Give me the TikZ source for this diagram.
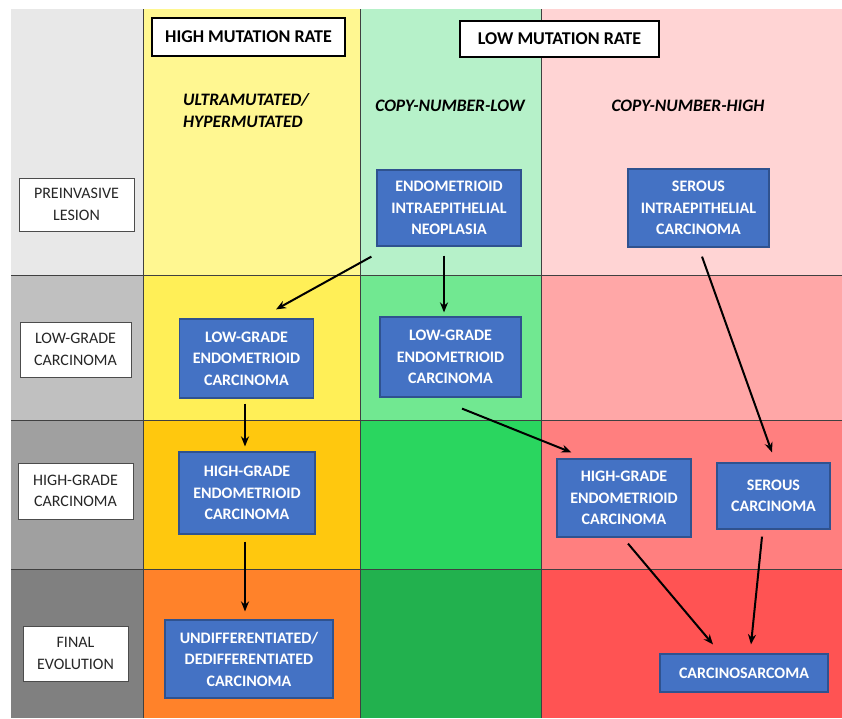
\documentclass[tikz,border=0pt]{standalone}
\usepackage{fontspec}
\setmainfont{Carlito}
\usetikzlibrary{arrows.meta}

\definecolor{cellg1}{HTML}{E8E8E8}
\definecolor{cellg2}{HTML}{C0C0C0}
\definecolor{cellg3}{HTML}{A0A0A0}
\definecolor{cellg4}{HTML}{808080}
\definecolor{celly1}{HTML}{FFF791}
\definecolor{celly2}{HTML}{FFEF57}
\definecolor{celly3}{HTML}{FFC80E}
\definecolor{celly4}{HTML}{FF822A}
\definecolor{celln1}{HTML}{B6F1C9}
\definecolor{celln2}{HTML}{71E891}
\definecolor{celln3}{HTML}{2AD65F}
\definecolor{celln4}{HTML}{22B14E}
\definecolor{cellr1}{HTML}{FFD4D4}
\definecolor{cellr2}{HTML}{FFA7A7}
\definecolor{cellr3}{HTML}{FF7F7F}
\definecolor{cellr4}{HTML}{FF5353}
\definecolor{boxblue}{HTML}{4472C4}
\definecolor{boxedge}{HTML}{2F528F}

\tikzset{
  gridline/.style={draw=black!75, line width=1pt},
  tumour/.style={draw=boxedge, fill=boxblue, text=white, line width=1.2pt, inner sep=0pt,
    align=center, font=\bfseries\fontsize{16}{21.5}\selectfont},
  stage/.style={draw=black!70, fill=white, text=black!85, line width=1pt, inner sep=0pt,
    align=center, font=\fontsize{16}{21.5}\selectfont},
  rate/.style={draw=black, fill=white, line width=1.8pt, inner sep=0pt,
    font=\bfseries\fontsize{18}{20}\selectfont},
  subtype/.style={inner sep=0pt, font=\bfseries\itshape\fontsize{17.5}{22}\selectfont},
  arr/.style={-{Stealth[length=10pt,width=8pt]}, line width=2pt},
}

\begin{document}
\begin{tikzpicture}[x=1pt, y=-1pt]
    \useasboundingbox[fill=white] (0,0) rectangle (842,718);

    % colour cells
    \foreach \xa/\xb/\cn in {11/143/g, 143/360/y, 360/541/n, 541/842/r}
        \foreach \ya/\yb/\rn in {9/275/1, 275/420/2, 420/569/3, 569/718/4}
            \fill[cell\cn\rn] (\xa,\ya) rectangle (\xb,\yb);
    \foreach \y in {275, 420, 569}
        \draw[gridline] (11,\y) -- (842,\y);
    \foreach \x in {143, 360, 541}
        \draw[gridline] (\x,9) -- (\x,718);

    % headers
    \node[rate, minimum width=193pt, minimum height=38pt] (hmr) at (248.5,37) {HIGH MUTATION RATE};
    \node[rate, minimum width=199pt, minimum height=36pt] (lmr) at (559.5,39) {LOW MUTATION RATE};
    \node[subtype, align=left, anchor=west] (ultra) at (183,111) {ULTRAMUTATED/\\HYPERMUTATED};
    \node[subtype] (cnl) at (450,106) {COPY-NUMBER-LOW};
    \node[subtype] (cnh) at (688,106) {COPY-NUMBER-HIGH};

    % stages
    \node[stage, minimum width=115pt, minimum height=53pt] (pre) at (76.5,204.5) {PREINVASIVE\\LESION};
    \node[stage, minimum width=111pt, minimum height=55pt] (lgl) at (75.5,349.5) {LOW-GRADE\\CARCINOMA};
    \node[stage, minimum width=115pt, minimum height=56pt] (hgl) at (75.5,491) {HIGH-GRADE\\CARCINOMA};
    \node[stage, minimum width=105pt, minimum height=55pt] (fin) at (75.5,653.5) {FINAL\\EVOLUTION};

    % tumours
    \node[tumour, minimum width=144pt, minimum height=76pt] (ein) at (449,208) {ENDOMETRIOID\\INTRAEPITHELIAL\\NEOPLASIA};
    \node[tumour, minimum width=141pt, minimum height=78pt] (sic) at (698.5,208) {SEROUS\\INTRAEPITHELIAL\\CARCINOMA};
    \node[tumour, minimum width=134pt, minimum height=79pt] (lgy) at (246.5,358.5) {LOW-GRADE\\ENDOMETRIOID\\CARCINOMA};
    \node[tumour, minimum width=141pt, minimum height=80pt] (lgg) at (450.5,357) {LOW-GRADE\\ENDOMETRIOID\\CARCINOMA};
    \node[tumour, minimum width=136pt, minimum height=82pt] (hgy) at (247,493) {HIGH-GRADE\\ENDOMETRIOID\\CARCINOMA};
    \node[tumour, minimum width=134pt, minimum height=78pt] (hgr) at (624,498) {HIGH-GRADE\\ENDOMETRIOID\\CARCINOMA};
    \node[tumour, minimum width=113pt, minimum height=66pt] (sc) at (773.5,496) {SEROUS\\CARCINOMA};
    \node[tumour, minimum width=168pt, minimum height=78pt] (und) at (249,659) {UNDIFFERENTIATED/\\DEDIFFERENTIATED\\CARCINOMA};
    \node[tumour, minimum width=168pt, minimum height=38pt] (cs) at (744,673) {CARCINOSARCOMA};

    % progression
    \draw[arr] ([shift={(-5,10)}]ein.south west) -- ([shift={(29.5,-9)}]lgy.north);
    \draw[arr] ([shift={(-5,9)}]ein.south) -- ([shift={(-6.5,-4)}]lgg.north);
    \draw[arr] ([shift={(-1.5,5)}]lgy.south) -- ([shift={(-2,-5)}]hgy.north);
    \draw[arr] ([shift={(-2,7)}]hgy.south) -- ([shift={(-4,-8)}]und.north);
    \draw[arr] ([shift={(11.5,11)}]lgg.south) -- ([shift={(15,-6)}]hgr.north west);
    \draw[arr] ([shift={(3.5,9)}]sic.south) -- ([shift={(-1.5,-10)}]sc.north);
    \draw[arr] ([shift={(4,6)}]hgr.south) -- ([shift={(-31,-9)}]cs.north);
    \draw[arr] ([shift={(-11.5,7)}]sc.south) -- ([shift={(7,-9)}]cs.north);
\end{tikzpicture}
\end{document}
